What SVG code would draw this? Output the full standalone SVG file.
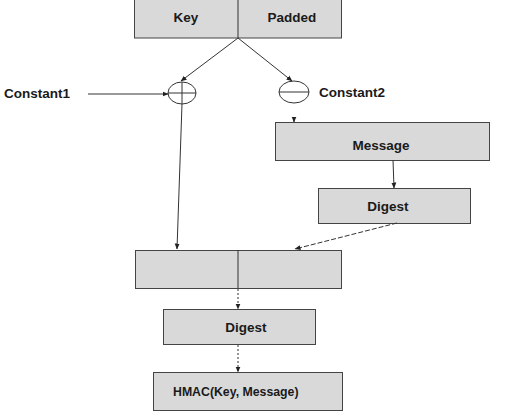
<svg xmlns="http://www.w3.org/2000/svg" width="515" height="416" viewBox="0 0 515 416">
<defs>
<marker id="ah" markerWidth="6" markerHeight="6" refX="5.5" refY="3" orient="auto" markerUnits="userSpaceOnUse">
<path d="M0,0.5 L6,3 L0,5.5 z" fill="#222"/>
</marker>
<style>
.box{fill:#d9d9d9;stroke:#444;stroke-width:1}
.t{font-family:"Liberation Sans",Arial,sans-serif;font-weight:bold;font-size:13.5px;fill:#1a1a1a}
.c{text-anchor:middle}
.ln{stroke:#333;stroke-width:1;fill:none}
.op{fill:#fff;stroke:#333;stroke-width:1}
</style>
</defs>
<rect width="515" height="416" fill="#fff"/>
<g id="keypad">
<rect class="box" x="134.5" y="-1" width="207" height="39"/>
<line class="ln" x1="238" y1="0" x2="238" y2="38"/>
<text class="t c" x="186" y="22">Key</text>
<text class="t c" x="292" y="22">Padded</text>
</g>
<g id="xor1">
<ellipse class="op" cx="182" cy="93" rx="14" ry="11"/>
<line class="ln" x1="168" y1="93" x2="196" y2="93"/>
<line class="ln" x1="182" y1="82" x2="182" y2="104"/>
</g>
<g id="xor2">
<ellipse class="op" cx="294" cy="92" rx="15" ry="11"/>
<line class="ln" x1="279" y1="92" x2="309" y2="92"/>
</g>
<g id="constant1"><text class="t" x="4" y="98">Constant1</text></g>
<g id="constant2"><text class="t" x="319" y="97">Constant2</text></g>
<g id="message">
<rect class="box" x="275.5" y="122.5" width="214" height="38"/>
<text class="t c" x="381" y="150">Message</text>
</g>
<g id="digest1">
<rect class="box" x="318.5" y="188.5" width="152" height="35"/>
<text class="t c" x="388" y="211">Digest</text>
</g>
<g id="combined">
<rect class="box" x="135.5" y="250.5" width="206" height="38"/>
<line class="ln" x1="238" y1="250" x2="238" y2="288"/>
</g>
<g id="digest2">
<rect class="box" x="163.5" y="309.5" width="152" height="35"/>
<text class="t c" x="246" y="332">Digest</text>
</g>
<g id="hmac">
<rect class="box" x="153.5" y="372.5" width="189" height="38"/>
<text class="t" x="173" y="396" style="font-size:12.3px">HMAC(Key, Message)</text>
</g>
<g id="connectors">
<line class="ln" x1="238" y1="38" x2="181" y2="81" marker-end="url(#ah)"/>
<line class="ln" x1="238" y1="38" x2="292" y2="81" marker-end="url(#ah)"/>
<line class="ln" x1="88" y1="94" x2="168" y2="94" marker-end="url(#ah)"/>
<line class="ln" x1="294" y1="117" x2="294" y2="122" stroke="#fff" marker-end="url(#ah)"/>
<line class="ln" x1="182" y1="104" x2="177" y2="249" marker-end="url(#ah)"/>
<line class="ln" x1="393" y1="160" x2="394" y2="188" marker-end="url(#ah)"/>
<line class="ln" x1="397" y1="223" x2="295" y2="249" stroke-dasharray="5,2" marker-end="url(#ah)"/>
<line class="ln" x1="238" y1="289" x2="238" y2="309" stroke-dasharray="2,2" marker-end="url(#ah)"/>
<line class="ln" x1="238" y1="345" x2="238" y2="372" stroke-dasharray="2,2" marker-end="url(#ah)"/>
</g>
</svg>
